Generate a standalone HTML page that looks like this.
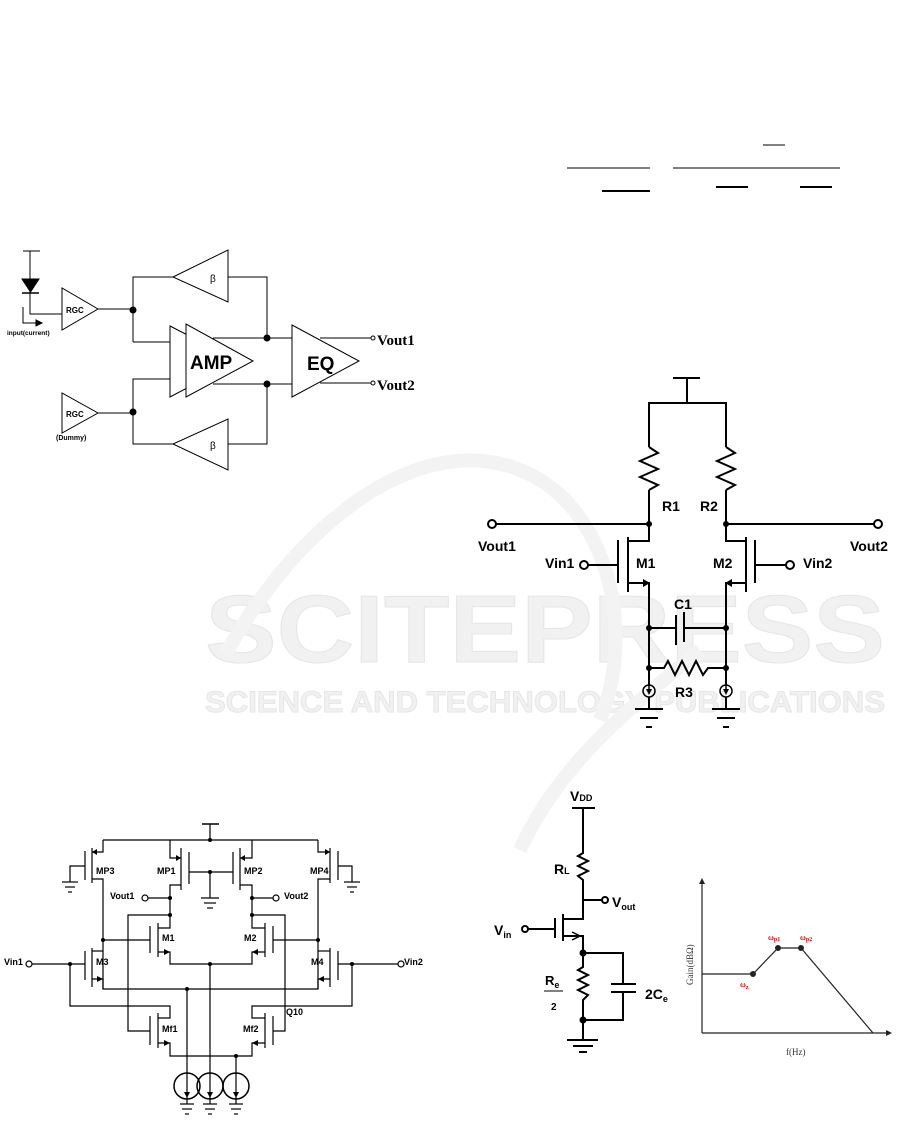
<!DOCTYPE html>
<html><head><meta charset="utf-8"><style>
html,body{margin:0;padding:0;background:#fff;}
svg{display:block;}
text{font-family:"Liberation Sans",sans-serif;}
text.serif{font-family:"Liberation Serif",serif;}
</style></head><body>
<svg width="901" height="1126" viewBox="0 0 901 1126" xmlns="http://www.w3.org/2000/svg">
<!-- watermark -->
<g fill="#f1f1f1" stroke="#e6e6e6" stroke-width="1" font-weight="bold">
<text x="205" y="662" font-size="96" textLength="680" lengthAdjust="spacingAndGlyphs">SCITEPRESS</text>
<text x="205" y="712" font-size="30" textLength="680" lengthAdjust="spacingAndGlyphs">SCIENCE AND TECHNOLOGY PUBLICATIONS</text>
</g>
<path d="M225,655 C300,520 420,430 520,470 C600,500 640,620 600,720 M520,850 C560,760 640,700 700,650" fill="none" stroke="#f3f3f3" stroke-width="14"/>

<!-- formula lines -->
<g stroke="#000">
<line x1="567" y1="168" x2="650" y2="168" stroke-width="1"/>
<line x1="673" y1="168" x2="840" y2="168" stroke-width="1"/>
<line x1="763" y1="145" x2="785" y2="145" stroke-width="1"/>
<line x1="602" y1="191" x2="650" y2="191" stroke-width="2"/>
<line x1="716" y1="187" x2="748" y2="187" stroke-width="2"/>
<line x1="800" y1="187" x2="832" y2="187" stroke-width="2"/>
</g>

<!-- top-left block diagram -->
<g stroke="#000" stroke-width="1" fill="none">
<line x1="23" y1="251" x2="40" y2="251"/>
<polyline points="30,251 30,314 62,314"/>
<polygon points="22,279 39,279 30.5,292" fill="#000"/>
<line x1="22" y1="293" x2="39" y2="293" stroke-width="1.5"/>
<polyline points="23,307 23,323 40,323"/>
<polygon points="36,320 42,323 36,326" fill="#000"/>
<polygon points="62,288 62,330 98,309" fill="#fff"/>
<polygon points="62,393 62,433 98,413" fill="#fff"/>
<polyline points="98,309 133,309"/>
<polyline points="98,413 133,413"/>
<polyline points="133,342 133,277 173,277"/>
<polyline points="228,277 267,277 267,338"/>
<polyline points="133,342 170,342"/>
<polyline points="133,413 133,379 170,379"/>
<polyline points="133,413 133,444 173,444"/>
<polyline points="228,444 267,444 267,384"/>
<polygon points="228,250 228,302 173,277" fill="#fff"/>
<polygon points="228,419 228,470 173,444" fill="#fff"/>
<polygon points="170,326 170,397 238,361" fill="#fff"/>
<polygon points="186,324 186,397 253,361" fill="#fff"/>
<line x1="213" y1="338" x2="292" y2="338"/>
<line x1="213" y1="384" x2="292" y2="384"/>
<polygon points="292,325 292,397 359,361" fill="#fff"/>
<line x1="320" y1="338" x2="371" y2="338"/>
<line x1="320" y1="383" x2="371" y2="383"/>
<circle cx="373" cy="338" r="2"/>
<circle cx="373" cy="383" r="2"/>
</g>
<g fill="#000">
<circle cx="133" cy="310" r="3.5"/><circle cx="133" cy="412" r="3.5"/>
<circle cx="267" cy="338" r="3.5"/><circle cx="267" cy="384" r="3.5"/>
</g>
<g font-weight="bold" fill="#000">
<text x="66" y="313" font-size="8">RGC</text>
<text x="66" y="417" font-size="8">RGC</text>
<text x="7" y="335" font-size="6.5">input(current)</text>
<text x="56" y="440" font-size="7">(Dummy)</text>
<text x="190" y="369" font-size="19">AMP</text>
<text x="307" y="370" font-size="19">EQ</text>
<text class="serif" x="377" y="345" font-size="15">Vout1</text>
<text class="serif" x="377" y="390" font-size="15">Vout2</text>
</g>
<g font-size="10" fill="#000"><text x="210" y="282">β</text><text x="210" y="449">β</text></g>

<!-- right differential circuit -->
<g stroke="#000" stroke-width="2" fill="none">
<line x1="673" y1="378" x2="700" y2="378"/>
<line x1="687" y1="378" x2="687" y2="403"/>
<polyline points="649,447 649,403 726,403 726,447"/>
<line x1="649" y1="490" x2="649" y2="524"/><line x1="726" y1="490" x2="726" y2="524"/>
<polyline points="649,447 658,453 640,461 658,469 640,477 658,485 649,490"/>
<polyline points="726,447 735,453 717,461 735,469 717,477 735,485 726,490"/>
<line x1="496" y1="524" x2="649" y2="524"/>
<line x1="726" y1="524" x2="874" y2="524"/>
<polyline points="649,524 649,541 628,541"/>
<line x1="628" y1="537" x2="628" y2="592"/>
<line x1="618" y1="540" x2="618" y2="583"/>
<line x1="618" y1="565" x2="588" y2="565"/>
<polyline points="628,583 649,583 649,685"/>
<polyline points="726,524 726,541 746,541"/>
<line x1="746" y1="537" x2="746" y2="592"/>
<line x1="755" y1="540" x2="755" y2="583"/>
<line x1="755" y1="565" x2="786" y2="565"/>
<polyline points="746,583 726,583 726,685"/>
<line x1="649" y1="628" x2="676" y2="628"/>
<line x1="684" y1="628" x2="726" y2="628"/>
<line x1="676" y1="615" x2="676" y2="645"/>
<line x1="684" y1="612" x2="684" y2="642"/>
<polyline points="649,668 664,668 668,661 675,675 682,661 689,675 696,661 703,675 708,668 726,668"/>
<circle cx="492" cy="524" r="4"/><circle cx="878" cy="524" r="4"/>
<circle cx="584" cy="565" r="4"/><circle cx="790" cy="565" r="4"/>
<circle cx="649" cy="691" r="6" stroke-width="1.5"/><circle cx="726" cy="691" r="6" stroke-width="1.5"/>
<line x1="649" y1="697" x2="649" y2="709"/><line x1="726" y1="697" x2="726" y2="709"/>
<line x1="635" y1="709" x2="663" y2="709"/><line x1="640" y1="718" x2="658" y2="718"/><line x1="646" y1="727" x2="652" y2="727"/>
<line x1="712" y1="709" x2="740" y2="709"/><line x1="717" y1="718" x2="735" y2="718"/><line x1="723" y1="727" x2="729" y2="727"/>
</g>
<g fill="#000">
<polygon points="643,579 650,583 643,587"/><polygon points="732,579 725,583 732,587"/>
<polygon points="646,689 652,689 649,695"/><polygon points="723,689 729,689 726,695"/>
<line x1="649" y1="685" x2="649" y2="692" stroke="#000" stroke-width="1.5"/><line x1="726" y1="685" x2="726" y2="692" stroke="#000" stroke-width="1.5"/>
<circle cx="649" cy="524" r="3"/><circle cx="726" cy="524" r="3"/>
<circle cx="649" cy="628" r="3"/><circle cx="726" cy="628" r="3"/>
<circle cx="649" cy="668" r="3"/><circle cx="726" cy="668" r="3"/>
</g>
<g font-weight="bold" font-size="14" fill="#000">
<text x="662" y="511">R1</text><text x="700" y="511">R2</text>
<text x="478" y="551">Vout1</text><text x="850" y="551">Vout2</text>
<text x="545" y="568">Vin1</text><text x="803" y="568">Vin2</text>
<text x="636" y="568">M1</text><text x="713" y="568">M2</text>
<text x="674" y="609">C1</text><text x="675" y="697">R3</text>
</g>

<!-- bottom-left circuit -->
<g stroke="#000" stroke-width="1.2" fill="none">
<line x1="202" y1="824" x2="219" y2="824" stroke-width="1.5"/>
<line x1="210" y1="824" x2="210" y2="840"/>
<line x1="103" y1="840" x2="318" y2="840"/>
<polyline points="103,840 103,852 92,852"/><line x1="92" y1="848" x2="92" y2="883"/><line x1="85" y1="851" x2="85" y2="880"/>
<polyline points="85,866 70,866 70,882"/><line x1="62" y1="882" x2="78" y2="882"/><line x1="65" y1="887" x2="75" y2="887"/><line x1="68" y1="892" x2="72" y2="892"/>
<polyline points="92,879 103,879 103,989"/>
<polyline points="318,840 318,852 330,852"/><line x1="330" y1="848" x2="330" y2="883"/><line x1="338" y1="851" x2="338" y2="880"/>
<polyline points="338,866 352,866 352,882"/><line x1="344" y1="882" x2="360" y2="882"/><line x1="347" y1="887" x2="357" y2="887"/><line x1="350" y1="892" x2="354" y2="892"/>
<polyline points="330,879 318,879 318,989"/>
<polyline points="170,840 170,858 181,858"/><line x1="181" y1="848" x2="181" y2="890"/><line x1="189" y1="852" x2="189" y2="884"/>
<polyline points="181,885 170,885 170,928 158,928"/>
<line x1="189" y1="872" x2="233" y2="872"/><line x1="210" y1="872" x2="210" y2="898"/>
<line x1="201" y1="898" x2="219" y2="898"/><line x1="204" y1="903" x2="216" y2="903"/><line x1="207" y1="908" x2="213" y2="908"/>
<polyline points="252,840 252,858 240,858"/><line x1="240" y1="848" x2="240" y2="890"/><line x1="233" y1="852" x2="233" y2="884"/>
<polyline points="240,885 252,885 252,928 265,928"/>
<line x1="170" y1="898" x2="148" y2="898"/><line x1="252" y1="898" x2="273" y2="898"/>
<circle cx="145" cy="898" r="3"/><circle cx="276" cy="898" r="3"/>
<line x1="158" y1="923" x2="158" y2="957"/><line x1="150" y1="926" x2="150" y2="953"/>
<line x1="150" y1="940" x2="103" y2="940"/>
<polyline points="158,952 170,952 170,964 252,964 252,952 265,952"/>
<line x1="265" y1="923" x2="265" y2="957"/><line x1="273" y1="926" x2="273" y2="953"/>
<line x1="273" y1="940" x2="318" y2="940"/>
<line x1="210" y1="964" x2="210" y2="1073"/>
<polyline points="170,915 128,915 128,1031 150,1031"/>
<polyline points="252,915 285,915 285,1031 273,1031"/>
<line x1="92" y1="948" x2="92" y2="987"/><line x1="85" y1="951" x2="85" y2="980"/>
<polyline points="92,951 103,951"/>
<line x1="85" y1="964" x2="32" y2="964"/><circle cx="29" cy="964" r="3"/>
<polyline points="92,979 103,979 103,989 318,989 318,979 330,979"/>
<polyline points="330,951 318,951"/>
<line x1="330" y1="948" x2="330" y2="987"/><line x1="338" y1="951" x2="338" y2="980"/>
<line x1="338" y1="964" x2="398" y2="964"/><circle cx="401" cy="964" r="3"/>
<line x1="187" y1="989" x2="187" y2="1073"/>
<polyline points="70,964 70,1006 170,1006 170,1018 158,1018"/>
<line x1="158" y1="1013" x2="158" y2="1048"/><line x1="150" y1="1016" x2="150" y2="1045"/>
<polyline points="158,1043 170,1043 170,1056 252,1056 252,1043 265,1043"/>
<polyline points="352,964 352,1006 252,1006 252,1018 265,1018"/>
<line x1="265" y1="1013" x2="265" y2="1048"/><line x1="273" y1="1016" x2="273" y2="1045"/>
<line x1="236" y1="1056" x2="236" y2="1073"/>
<circle cx="187" cy="1086" r="13" stroke-width="1.5"/><circle cx="210" cy="1086" r="13" stroke-width="1.5"/><circle cx="236" cy="1086" r="13" stroke-width="1.5"/>
<line x1="187" y1="1073" x2="187" y2="1104"/><line x1="210" y1="1073" x2="210" y2="1104"/><line x1="236" y1="1073" x2="236" y2="1104"/>
<line x1="180" y1="1104" x2="194" y2="1104"/><line x1="182" y1="1109" x2="192" y2="1109"/><line x1="185" y1="1114" x2="189" y2="1114"/>
<line x1="203" y1="1104" x2="217" y2="1104"/><line x1="205" y1="1109" x2="215" y2="1109"/><line x1="208" y1="1114" x2="212" y2="1114"/>
<line x1="229" y1="1104" x2="243" y2="1104"/><line x1="231" y1="1109" x2="241" y2="1109"/><line x1="234" y1="1114" x2="238" y2="1114"/>
</g>
<g fill="#000">
<polygon points="92,852 97,849 97,855"/><polygon points="330,852 325,849 325,855"/>
<polygon points="181,858 176,855 176,861"/><polygon points="240,858 245,855 245,861"/>
<polygon points="170,952 164,949 164,955"/><polygon points="252,952 258,949 258,955"/>
<polygon points="103,979 97,976 97,982"/><polygon points="318,979 324,976 324,982"/>
<polygon points="170,1043 164,1040 164,1046"/><polygon points="252,1043 258,1040 258,1046"/>
<polygon points="184,1092 190,1092 187,1098"/><polygon points="207,1092 213,1092 210,1098"/><polygon points="233,1092 239,1092 236,1098"/>
<circle cx="210" cy="840" r="2"/><circle cx="210" cy="872" r="2"/>
<circle cx="170" cy="898" r="2"/><circle cx="252" cy="898" r="2"/>
<circle cx="170" cy="915" r="2"/><circle cx="252" cy="915" r="2"/>
<circle cx="103" cy="940" r="2"/><circle cx="318" cy="940" r="2"/>
<circle cx="210" cy="964" r="2"/><circle cx="70" cy="964" r="2"/><circle cx="352" cy="964" r="2"/>
<circle cx="187" cy="989" r="2"/><circle cx="236" cy="1056" r="2"/>
</g>
<g font-weight="bold" font-size="9" fill="#000">
<text x="96" y="874">MP3</text><text x="157" y="874">MP1</text><text x="244" y="874">MP2</text><text x="310" y="874">MP4</text>
<text x="110" y="899">Vout1</text><text x="284" y="899">Vout2</text>
<text x="162" y="941">M1</text><text x="244" y="941">M2</text>
<text x="96" y="965">M3</text><text x="311" y="965">M4</text>
<text x="4" y="965">Vin1</text><text x="404" y="965">Vin2</text>
<text x="162" y="1032">Mf1</text><text x="243" y="1032">Mf2</text>
<text x="286" y="1015">Q10</text>
</g>

<!-- bottom-right common source -->
<g stroke="#000" stroke-width="2" fill="none">
<line x1="572" y1="808" x2="595" y2="808"/>
<polyline points="583,808 583,853 578,856 588,861 578,866 588,871 578,876 583,880 583,919 563,919"/>
<line x1="583" y1="900" x2="602" y2="900"/><circle cx="605" cy="900" r="3"/>
<line x1="563" y1="914" x2="563" y2="941"/><line x1="555" y1="918" x2="555" y2="938"/>
<line x1="555" y1="929" x2="528" y2="929"/><circle cx="525" cy="929" r="3"/>
<polyline points="563,936 583,936 583,967 578,970 588,975 578,980 588,985 578,990 588,995 583,1000 583,1040"/>
<polyline points="583,953 623,953 623,984"/>
<line x1="611" y1="984" x2="636" y2="984"/><line x1="611" y1="992" x2="636" y2="992"/>
<polyline points="623,992 623,1020 583,1020"/>
<line x1="567" y1="1040" x2="598" y2="1040"/><line x1="573" y1="1046" x2="593" y2="1046"/><line x1="579" y1="1052" x2="587" y2="1052"/>
<polyline points="572,932 580,936 572,940" stroke-width="1.5"/>
</g>
<g fill="#000"><circle cx="583" cy="953" r="3.5"/><circle cx="583" cy="1020" r="3.5"/></g>
<g font-weight="bold" fill="#000">
<text x="570" y="801" font-size="14">V<tspan font-size="9">DD</tspan></text>
<text x="554" y="874" font-size="14">R<tspan font-size="9">L</tspan></text>
<text x="612" y="907" font-size="14">V<tspan font-size="9" dy="3">out</tspan></text>
<text x="494" y="935" font-size="14">V<tspan font-size="9" dy="3">in</tspan></text>
<text x="545" y="985" font-size="13">R<tspan font-size="9" dy="3">e</tspan></text>
<line x1="544" y1="991" x2="563" y2="991" stroke="#000" stroke-width="1"/>
<text x="551" y="1010" font-size="10">2</text>
<text x="645" y="999" font-size="14">2C<tspan font-size="9" dy="3">e</tspan></text>
</g>
<!-- graph -->
<g stroke="#222" stroke-width="1.2" fill="none">
<line x1="702" y1="1033" x2="702" y2="882"/>
<line x1="702" y1="1033" x2="890" y2="1033"/>
<polyline points="702,974 753,974 778,948 801,948 873,1033"/>
</g>
<g fill="#222">
<polygon points="699,884 702,878 705,884"/><polygon points="886,1030 892,1033 886,1036"/>
<circle cx="753" cy="974" r="3"/><circle cx="778" cy="948" r="3"/><circle cx="801" cy="948" r="3"/>
</g>
<g fill="#e01010" font-weight="bold" font-size="8">
<text class="serif" x="740" y="987">ω<tspan font-size="6" dy="2">z</tspan></text>
<text class="serif" x="768" y="940">ω<tspan font-size="6" dy="1">p1</tspan></text>
<text class="serif" x="800" y="940">ω<tspan font-size="6" dy="1">p2</tspan></text>
</g>
<text class="serif" x="0" y="0" font-size="9" fill="#333" transform="translate(693,985) rotate(-90)">Gain(dBΩ)</text>
<text class="serif" x="786" y="1055" font-size="9" fill="#333">f(Hz)</text>
</svg>
</body></html>
